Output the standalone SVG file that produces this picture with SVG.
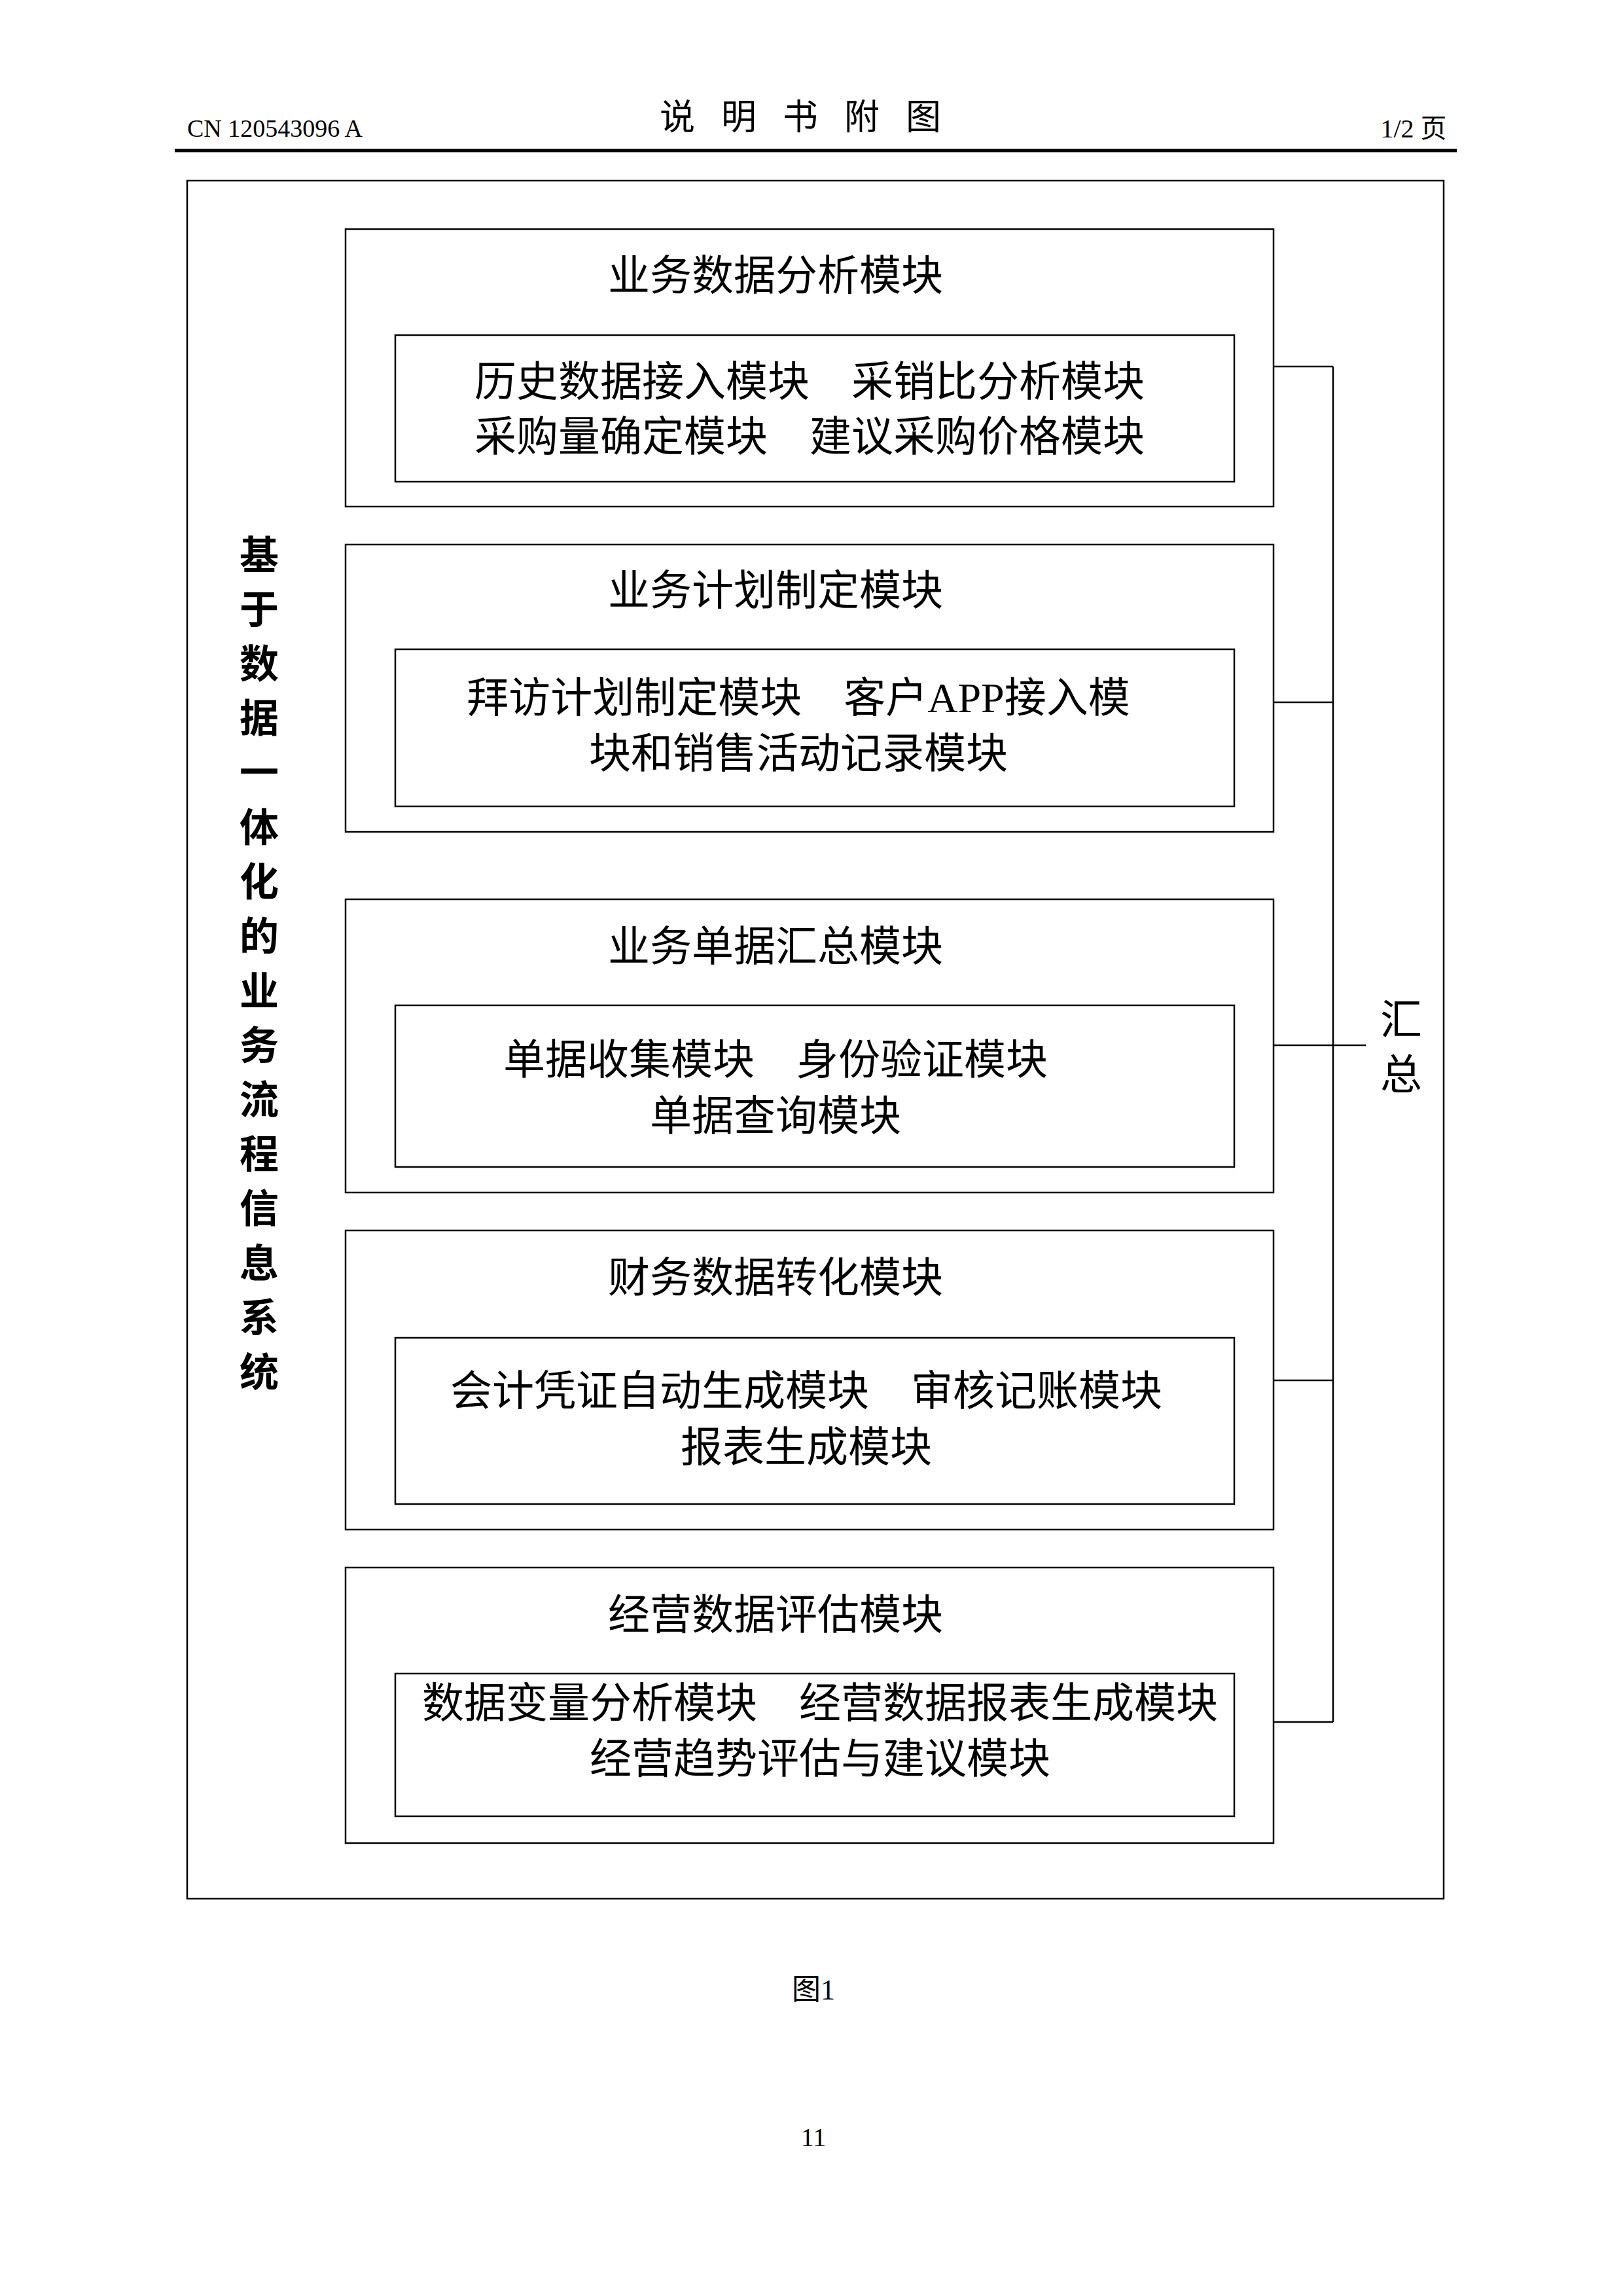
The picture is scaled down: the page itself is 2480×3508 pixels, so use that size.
<svg xmlns="http://www.w3.org/2000/svg" width="2480" height="3508" viewBox="0 0 2480 3508">
<style>
.b{fill:none;stroke:#000;stroke-width:2.5}
.t{font-family:"Liberation Serif","Noto Sans CJK SC",serif;fill:#000;text-anchor:middle;dominant-baseline:central}
.m{font-size:64px}
.h{font-size:40px}
.c{stroke:#000;stroke-width:2.5;fill:none}
</style>
<rect width="2480" height="3508" fill="#fff"/>
<g id="header">
<text class="t" x="420" y="196" font-size="38" text-anchor="middle">CN 120543096 A</text>
<text class="t" x="1243" y="180" font-size="54" letter-spacing="40">说明书附图</text>
<text class="t" x="2160" y="196" font-size="40">1/2 页</text>
<line x1="267" y1="230" x2="2226" y2="230" stroke="#000" stroke-width="5"/>
</g>
<g id="system">
<rect class="b" x="286" y="276" width="1920" height="2625"/>
<text class="t" font-size="60" font-weight="bold" x="396">
<tspan x="396" y="850">基</tspan><tspan x="396" y="933">于</tspan><tspan x="396" y="1016">数</tspan><tspan x="396" y="1099">据</tspan><tspan x="396" y="1182">一</tspan><tspan x="396" y="1266">体</tspan><tspan x="396" y="1349">化</tspan><tspan x="396" y="1432">的</tspan><tspan x="396" y="1516">业</tspan><tspan x="396" y="1599">务</tspan><tspan x="396" y="1682">流</tspan><tspan x="396" y="1765">程</tspan><tspan x="396" y="1848">信</tspan><tspan x="396" y="1932">息</tspan><tspan x="396" y="2015">系</tspan><tspan x="396" y="2098">统</tspan>
</text>
</g>
<g id="m1">
<rect class="b" x="528" y="350" width="1418" height="424"/>
<text class="t m" x="1185" y="421">业务数据分析模块</text>
<rect class="b" x="604" y="512" width="1282" height="224"/>
<text class="t m" x="1237" y="583">历史数据接入模块　采销比分析模块</text>
<text class="t m" x="1237" y="667">采购量确定模块　建议采购价格模块</text>
</g>
<g id="m2">
<rect class="b" x="528" y="832" width="1418" height="439"/>
<text class="t m" x="1185" y="902">业务计划制定模块</text>
<rect class="b" x="604" y="992" width="1282" height="240"/>
<text class="t m" x="1220" y="1066">拜访计划制定模块　客户APP接入模</text>
<text class="t m" x="1220" y="1151">块和销售活动记录模块</text>
</g>
<g id="m3">
<rect class="b" x="528" y="1374" width="1418" height="448"/>
<text class="t m" x="1185" y="1446">业务单据汇总模块</text>
<rect class="b" x="604" y="1536" width="1282" height="247"/>
<text class="t m" x="1185" y="1619">单据收集模块　身份验证模块</text>
<text class="t m" x="1185" y="1705">单据查询模块</text>
</g>
<g id="m4">
<rect class="b" x="528" y="1880" width="1418" height="457"/>
<text class="t m" x="1185" y="1952">财务数据转化模块</text>
<rect class="b" x="604" y="2044" width="1282" height="254"/>
<text class="t m" x="1232" y="2125">会计凭证自动生成模块　审核记账模块</text>
<text class="t m" x="1232" y="2211">报表生成模块</text>
</g>
<g id="m5">
<rect class="b" x="528" y="2395" width="1418" height="421"/>
<text class="t m" x="1185" y="2467">经营数据评估模块</text>
<rect class="b" x="604" y="2557" width="1282" height="218"/>
<text class="t m" x="1253" y="2602">数据变量分析模块　经营数据报表生成模块</text>
<text class="t m" x="1253" y="2687">经营趋势评估与建议模块</text>
</g>
<g id="summary">
<text class="t" font-size="64" x="2141" y="1558">汇</text>
<text class="t" font-size="64" x="2141" y="1642">总</text>
</g>
<g id="connectors">
<line class="c" x1="1946" y1="560" x2="2037" y2="560"/>
<line class="c" x1="1946" y1="1073" x2="2037" y2="1073"/>
<line class="c" x1="1946" y1="1597" x2="2087" y2="1597"/>
<line class="c" x1="1946" y1="2109" x2="2037" y2="2109"/>
<line class="c" x1="1946" y1="2631" x2="2037" y2="2631"/>
<line class="c" x1="2037" y1="560" x2="2037" y2="2631"/>
</g>
<text class="t" font-size="44" x="1243" y="3040">图1</text>
<text class="t" font-size="40" x="1243" y="3265">11</text>
</svg>
